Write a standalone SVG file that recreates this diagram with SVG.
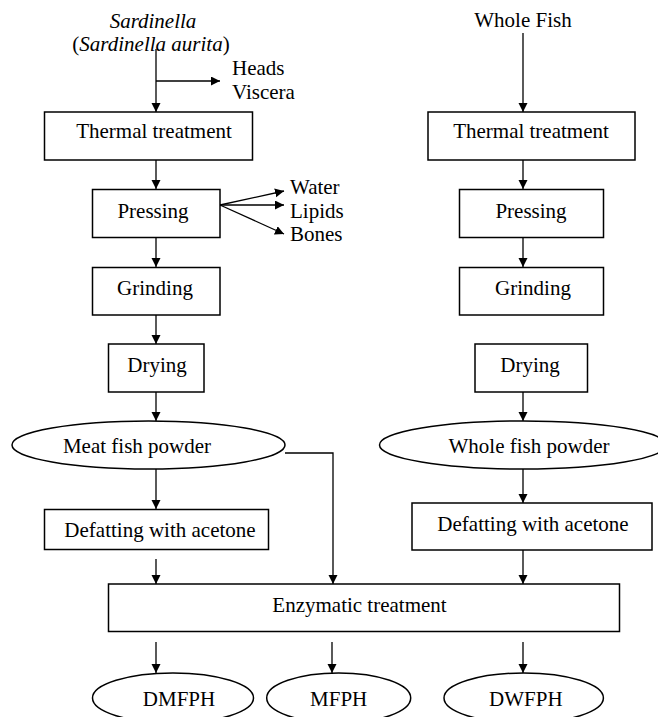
<svg xmlns="http://www.w3.org/2000/svg" width="658" height="717" viewBox="0 0 658 717">
<style>
text{font-family:"Liberation Serif","Times New Roman",serif;font-size:21px;fill:#000;text-anchor:middle}
.it{font-style:italic}
.l{text-anchor:start}
.b{fill:#fff;stroke:#000;stroke-width:1.5}
.c{fill:none;stroke:#000;stroke-width:1.3}
</style>
<defs>
<marker id="ah" markerUnits="userSpaceOnUse" markerWidth="10" markerHeight="10" refX="9" refY="4.5" orient="auto">
<path d="M0,0 L9,4.5 L0,9 z" fill="#000"/>
</marker>
</defs>
<rect width="658" height="717" fill="#fff"/>
<g id="connectors">
<path class="c" d="M156,49 V112" marker-end="url(#ah)"/>
<path class="c" d="M156,81 H220" marker-end="url(#ah)"/>
<path class="c" d="M523,33 V112" marker-end="url(#ah)"/>
<path class="c" d="M156,160 V189" marker-end="url(#ah)"/>
<path class="c" d="M523,160 V189" marker-end="url(#ah)"/>
<path class="c" d="M220,205 L284,191" marker-end="url(#ah)"/>
<path class="c" d="M220,205 L284,205" marker-end="url(#ah)"/>
<path class="c" d="M220,205 L284,234" marker-end="url(#ah)"/>
<path class="c" d="M156,237 V267" marker-end="url(#ah)"/>
<path class="c" d="M523,237 V267" marker-end="url(#ah)"/>
<path class="c" d="M156,315 V344" marker-end="url(#ah)"/>
<path class="c" d="M156,392 V421" marker-end="url(#ah)"/>
<path class="c" d="M523,392 V421" marker-end="url(#ah)"/>
<path class="c" d="M156,469 V509" marker-end="url(#ah)"/>
<path class="c" d="M523,469 V503" marker-end="url(#ah)"/>
<path class="c" d="M285,453 H333 V584" marker-end="url(#ah)"/>
<path class="c" d="M156,559 V584" marker-end="url(#ah)"/>
<path class="c" d="M523,550 V584" marker-end="url(#ah)"/>
<path class="c" d="M156,642 V673" marker-end="url(#ah)"/>
<path class="c" d="M332,642 V673" marker-end="url(#ah)"/>
<path class="c" d="M523,642 V673" marker-end="url(#ah)"/>
</g>
<g id="sardinella">
<text class="it" x="153" y="28">Sardinella</text>
<text x="151" y="51">(<tspan class="it">Sardinella aurita</tspan>)</text>
</g>
<g id="heads"><text class="l" x="232" y="75">Heads</text><text class="l" x="232" y="99">Viscera</text></g>
<g id="wholefish"><text x="523" y="27">Whole Fish</text></g>
<g id="thermal1"><rect class="b" x="44.5" y="112" width="208" height="48"/><text x="154" y="138">Thermal treatment</text></g>
<g id="thermal2"><rect class="b" x="428" y="112" width="207" height="48"/><text x="531" y="138">Thermal treatment</text></g>
<g id="pressing1"><rect class="b" x="92.5" y="189.5" width="127.5" height="48"/><text x="153" y="218">Pressing</text></g>
<g id="byproducts">
<text class="l" x="290" y="194">Water</text>
<text class="l" x="290" y="218">Lipids</text>
<text class="l" x="290" y="241">Bones</text>
</g>
<g id="pressing2"><rect class="b" x="459.5" y="189.5" width="144" height="48"/><text x="531" y="218">Pressing</text></g>
<g id="grinding1"><rect class="b" x="92.5" y="267.5" width="127.5" height="47.5"/><text x="155" y="295">Grinding</text></g>
<g id="grinding2"><rect class="b" x="459.5" y="267.5" width="144" height="47.5"/><text x="533" y="295">Grinding</text></g>
<g id="drying1"><rect class="b" x="108.5" y="344" width="95.5" height="48"/><text x="157" y="372">Drying</text></g>
<g id="drying2"><rect class="b" x="475" y="344" width="112.5" height="48"/><text x="530" y="372">Drying</text></g>
<g id="meatpowder"><ellipse class="b" cx="148.5" cy="445" rx="136.5" ry="24"/><text x="137" y="453">Meat fish powder</text></g>
<g id="wholepowder"><ellipse class="b" cx="523" cy="445" rx="143.5" ry="24"/><text x="529" y="453">Whole fish powder</text></g>
<g id="defat1"><rect class="b" x="44.5" y="509.5" width="224" height="40"/><text x="160" y="537">Defatting with acetone</text></g>
<g id="defat2"><rect class="b" x="412" y="503" width="240" height="47"/><text x="533" y="531">Defatting with acetone</text></g>
<g id="enzymatic"><rect class="b" x="108.5" y="584" width="511" height="47.5"/><text x="359.5" y="612">Enzymatic treatment</text></g>
<g id="dmfph"><ellipse class="b" cx="173" cy="698" rx="80.5" ry="25"/><text x="179" y="706">DMFPH</text></g>
<g id="mfph"><ellipse class="b" cx="338.7" cy="698" rx="72" ry="25"/><text x="338.7" y="706">MFPH</text></g>
<g id="dwfph"><ellipse class="b" cx="523.7" cy="698" rx="79.7" ry="25"/><text x="525.8" y="706">DWFPH</text></g>
</svg>
